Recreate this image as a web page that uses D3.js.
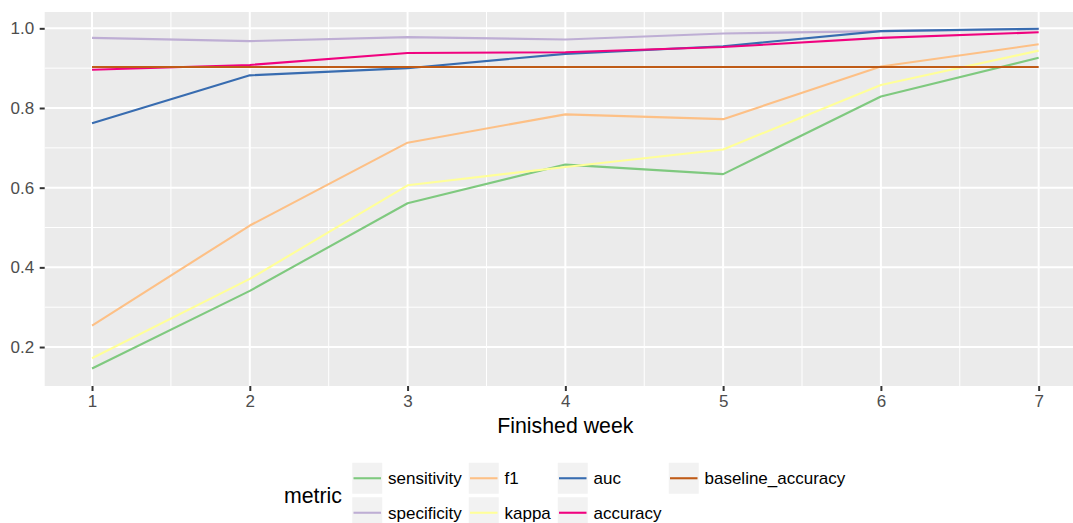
<!DOCTYPE html>
<html><head><meta charset="utf-8">
<script src="https://cdn.jsdelivr.net/npm/d3@7"></script>
<style>body{margin:0;background:#fff}svg{display:block}text{font-family:"Liberation Sans",Arial,sans-serif}</style>
</head><body><svg id="c" width="1073" height="523"></svg>
<script>
const weeks = [1,2,3,4,5,6,7];
const metrics = ["sensitivity","specificity","f1","kappa","auc","accuracy","baseline_accuracy"];
const colors = ["#7FC97F","#BEAED4","#FDC086","#FFFF99","#386CB0","#F0027F","#BF5B17"];
const sensitivity = [0.146,0.341,0.561,0.658,0.634,0.829,0.926];
const specificity = [0.976,0.968,0.978,0.972,0.987,0.993,0.998];
const f1 = [0.254,0.505,0.713,0.784,0.772,0.904,0.960];
const kappa = [0.172,0.371,0.606,0.652,0.696,0.858,0.944];
const auc = [0.762,0.882,0.900,0.936,0.955,0.993,0.999];
const accuracy = [0.896,0.908,0.938,0.940,0.953,0.976,0.990];
const baseline_accuracy = [0.903,0.903,0.903,0.903,0.903,0.903,0.903];
const yTicks = [0.2,0.4,0.6,0.8,1.0];
const yMinor = [0.3,0.5,0.7,0.9];
const xMinor = [1.5,2.5,3.5,4.5,5.5,6.5];
const seriesValues = {sensitivity,specificity,f1,kappa,auc,accuracy,baseline_accuracy};

const svg = d3.select("#c");
const x = d3.scaleLinear().domain([0.7,7.3]).range([44.7,1086]);
const y = d3.scaleLinear().domain([0.1022,1.041]).range([386,12]);
const pl = 44.7, pr = 1086, pt = 12, pb = 386;

svg.append("rect").attr("x",pl).attr("y",pt).attr("width",pr-pl).attr("height",pb-pt).attr("fill","#EBEBEB");
const g = svg.append("g");
yMinor.forEach(v=>g.append("line").attr("x1",pl).attr("x2",pr).attr("y1",y(v)).attr("y2",y(v)).attr("stroke","#fff").attr("stroke-width",1));
xMinor.forEach(v=>g.append("line").attr("y1",pt).attr("y2",pb).attr("x1",x(v)).attr("x2",x(v)).attr("stroke","#fff").attr("stroke-width",1));
yTicks.forEach(v=>g.append("line").attr("x1",pl).attr("x2",pr).attr("y1",y(v)).attr("y2",y(v)).attr("stroke","#fff").attr("stroke-width",2));
weeks.forEach(v=>g.append("line").attr("y1",pt).attr("y2",pb).attr("x1",x(v)).attr("x2",x(v)).attr("stroke","#fff").attr("stroke-width",2));

const line = d3.line().x((d,i)=>x(weeks[i])).y(d=>y(d));
metrics.forEach((m,i)=>{
  svg.append("path").attr("d",line(seriesValues[m])).attr("fill","none")
    .attr("stroke",colors[i]).attr("stroke-width",2.1).attr("stroke-linejoin","round");
});

// axes
const yAx = svg.append("g").attr("transform",`translate(${pl},0)`)
  .call(d3.axisLeft(y).tickValues(yTicks).tickFormat(d3.format(".1f")).tickSize(5).tickPadding(5.5));
const xAx = svg.append("g").attr("transform",`translate(0,${pb})`)
  .call(d3.axisBottom(x).tickValues(weeks).tickFormat(d3.format("d")).tickSize(5).tickPadding(3.5));
[yAx,xAx].forEach(a=>{
  a.select(".domain").remove();
  a.selectAll(".tick line").attr("stroke","#333").attr("stroke-width",2);
  a.selectAll(".tick text").attr("fill","#4D4D4D").attr("font-size",17).attr("font-family","Liberation Sans, Arial, sans-serif");
});

svg.append("text").attr("x",(pl+pr)/2).attr("y",432.5).attr("text-anchor","middle")
  .attr("font-size",21.3).attr("fill","#000").text("Finished week");

// legend
svg.append("text").attr("x",284).attr("y",502.5).attr("font-size",21.3).attr("fill","#000").text("metric");
const colX = [351.5,468,557,668];
const rowY = [462,496.5];
const kw = 31.5, kh = 32.5;
metrics.forEach((m,i)=>{
  const c = Math.floor(i/2), r = i%2;
  const kx = colX[c], ky = rowY[r];
  svg.append("rect").attr("x",kx).attr("y",ky).attr("width",kw).attr("height",kh)
    .attr("fill","#F2F2F2").attr("stroke","#fff").attr("stroke-width",1.5);
  svg.append("line").attr("x1",kx+2).attr("x2",kx+kw-2).attr("y1",ky+kh/2).attr("y2",ky+kh/2)
    .attr("stroke",colors[i]).attr("stroke-width",2.1);
  svg.append("text").attr("x",kx+kw+5).attr("y",ky+kh/2+6).attr("font-size",17).attr("fill","#000").text(m);
});
</script></body></html>
